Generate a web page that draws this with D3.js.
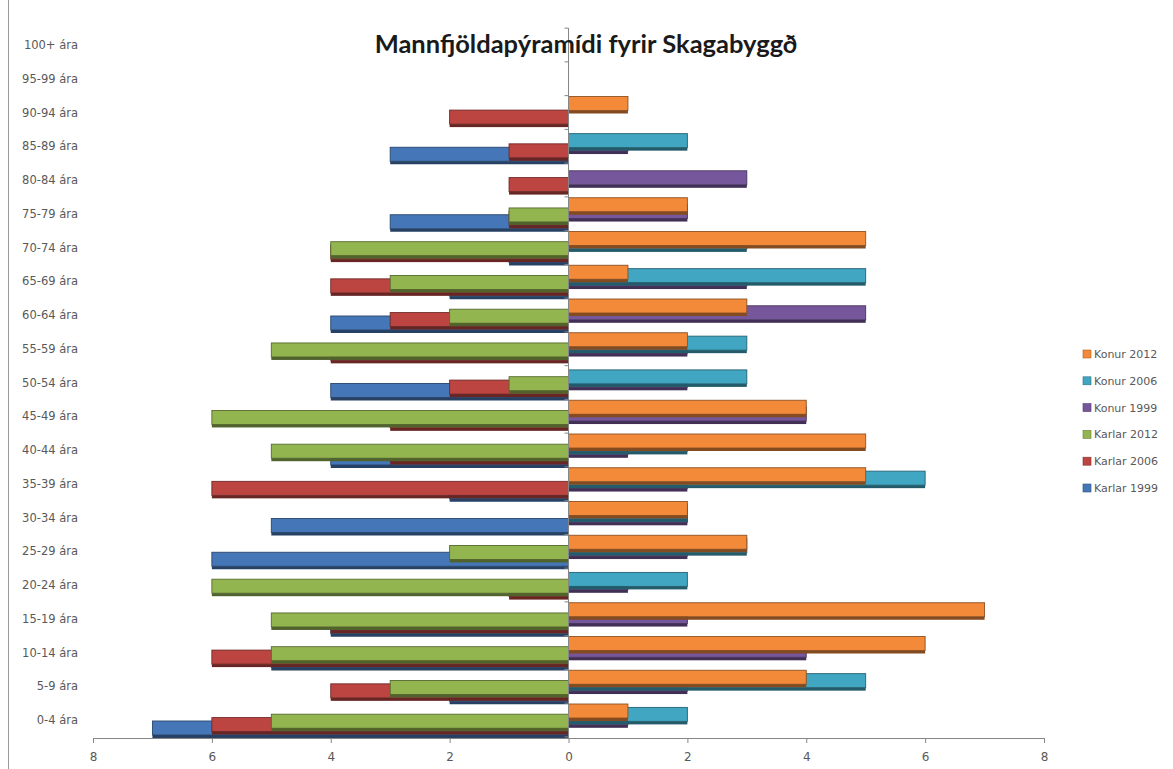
<!DOCTYPE html>
<html>
<head>
<meta charset="utf-8">
<script src="https://cdn.jsdelivr.net/npm/d3@7"></script>
<style>
  body { margin: 0; background: #fff; }
  svg { display: block; }
  text { font-family: "DejaVu Sans", sans-serif; }
</style>
</head>
<body>
<svg width="1173" height="769"></svg>
<script>
// age groups, bottom to top
let categories = ["0-4 ára", "5-9 ára", "10-14 ára", "15-19 ára", "20-24 ára", "25-29 ára",
  "30-34 ára", "35-39 ára", "40-44 ára", "45-49 ára", "50-54 ára", "55-59 ára", "60-64 ára",
  "65-69 ára", "70-74 ára", "75-79 ára", "80-84 ára", "85-89 ára", "90-94 ára", "95-99 ára", "100+ ára"];

let karlar1999 = [7, 2, 5, 4, 0, 6, 5, 2, 4, 0, 4, 0, 4, 2, 1, 3, 0, 3, 0, 0, 0];
let karlar2006 = [6, 4, 6, 4, 1, 0, 0, 6, 3, 3, 2, 4, 3, 4, 4, 1, 1, 1, 2, 0, 0];
let karlar2012 = [5, 3, 5, 5, 6, 2, 0, 0, 5, 6, 1, 5, 2, 3, 4, 1, 0, 0, 0, 0, 0];
let konur1999 = [1, 2, 4, 2, 1, 2, 2, 2, 1, 4, 2, 2, 5, 3, 0, 2, 3, 1, 0, 0, 0];
let konur2006 = [2, 5, 0, 0, 2, 3, 2, 6, 2, 0, 3, 3, 0, 5, 3, 0, 0, 2, 0, 0, 0];
let konur2012 = [1, 4, 6, 7, 0, 3, 2, 5, 5, 4, 0, 2, 3, 1, 5, 2, 0, 0, 1, 0, 0];

let xTicks = [-8, -6, -4, -2, 0, 2, 4, 6, 8];

// back to front
let series = [
  { name: "Karlar 1999", values: karlar1999, sign: -1, depth: 5, color: "#4577b8" },
  { name: "Karlar 2006", values: karlar2006, sign: -1, depth: 4, color: "#bc4542" },
  { name: "Karlar 2012", values: karlar2012, sign: -1, depth: 3, color: "#93b550" },
  { name: "Konur 1999", values: konur1999, sign: 1, depth: 2, color: "#77579c" },
  { name: "Konur 2006", values: konur2006, sign: 1, depth: 1, color: "#40a6c2" },
  { name: "Konur 2012", values: konur2012, sign: 1, depth: 0, color: "#f28a3a" }
];

let svg = d3.select("svg");

let x = d3.scaleLinear().domain([-8, 8]).range([93, 1044]);
let y = d3.scalePoint().domain(categories).range([720, 45]);
let step = y.step();
let barH = 17;
let sideH = 3;

// left border of the chart area
svg.append("line")
  .attr("x1", 8.5).attr("x2", 8.5)
  .attr("y1", 0).attr("y2", 769)
  .attr("stroke", "#9a9a9a");

// bars
series.forEach(function (s) {
  let g = svg.append("g").attr("class", "series");
  let rows = s.values.map(function (v, i) {
    return { cat: categories[i], v: v * s.sign };
  }).filter(function (d) { return d.v !== 0; });

  let top = function (d) {
    return y(d.cat) - 16 + 3.4 * s.depth;
  };

  g.selectAll("rect.face")
    .data(rows)
    .enter()
    .append("rect")
    .attr("class", "face")
    .attr("x", function (d) { return Math.min(x(0), x(d.v)); })
    .attr("width", function (d) { return Math.abs(x(d.v) - x(0)); })
    .attr("y", top)
    .attr("height", barH - sideH)
    .attr("fill", s.color)
    .attr("stroke", d3.color(s.color).darker(1.5))
    .attr("stroke-width", 0.9);

  g.selectAll("rect.side")
    .data(rows)
    .enter()
    .append("rect")
    .attr("class", "side")
    .attr("x", function (d) { return Math.min(x(0), x(d.v)); })
    .attr("width", function (d) { return Math.abs(x(d.v) - x(0)); })
    .attr("y", function (d) { return top(d) + barH - sideH; })
    .attr("height", sideH)
    .attr("fill", d3.color(s.color).darker(1.7));
});

// vertical category axis
svg.append("line")
  .attr("x1", x(0)).attr("x2", x(0))
  .attr("y1", 28).attr("y2", 738)
  .attr("stroke", "#868686");

svg.selectAll("line.ctick")
  .data(d3.range(categories.length + 1))
  .enter()
  .append("line")
  .attr("class", "ctick")
  .attr("x1", x(0) - 4).attr("x2", x(0))
  .attr("y1", function (i) { return 720 + step / 2 - i * step; })
  .attr("y2", function (i) { return 720 + step / 2 - i * step; })
  .attr("stroke", "#868686");

svg.selectAll("text.cat")
  .data(categories)
  .enter()
  .append("text")
  .attr("class", "cat")
  .attr("x", 78)
  .attr("y", function (d) { return y(d) + 4; })
  .attr("text-anchor", "end")
  .attr("font-size", 11.5)
  .attr("fill", "#595959")
  .text(function (d) { return d; });

// horizontal value axis
let xAxis = d3.axisBottom(x)
  .tickValues(xTicks)
  .tickSize(5)
  .tickFormat(function (d) { return Math.abs(d); });

let ax = svg.append("g")
  .attr("transform", "translate(0,738)")
  .call(xAxis);
ax.select(".domain").attr("stroke", "#868686");
ax.selectAll(".tick line").attr("stroke", "#868686");
ax.selectAll(".tick text")
  .attr("font-family", "DejaVu Sans")
  .attr("font-size", 12)
  .attr("fill", "#595959")
  .attr("dy", "1.25em");

// title
svg.append("text")
  .attr("x", 586)
  .attr("y", 53)
  .attr("text-anchor", "middle")
  .style("font-family", "Lato, 'Open Sans', sans-serif")
  .style("font-weight", "bold")
  .attr("font-size", 25.5)
  .attr("fill", "#1a1a1a")
  .text("Mannfjöldapýramídi fyrir Skagabyggð");

// legend
let legendItems = series.slice().reverse();
let lg = svg.selectAll("g.legend")
  .data(legendItems)
  .enter()
  .append("g")
  .attr("class", "legend")
  .attr("transform", function (d, i) {
    return "translate(1083," + (354 + i * 26.8) + ")";
  });

lg.append("rect")
  .attr("x", 0).attr("y", -4)
  .attr("width", 8).attr("height", 8)
  .attr("fill", function (d) { return d.color; })
  .attr("stroke", function (d) { return d3.color(d.color).darker(1); })
  .attr("stroke-width", 0.6);

lg.append("text")
  .attr("x", 11)
  .attr("y", 4)
  .attr("font-size", 11)
  .attr("fill", "#595959")
  .text(function (d) { return d.name; });
</script>
</body>
</html>
